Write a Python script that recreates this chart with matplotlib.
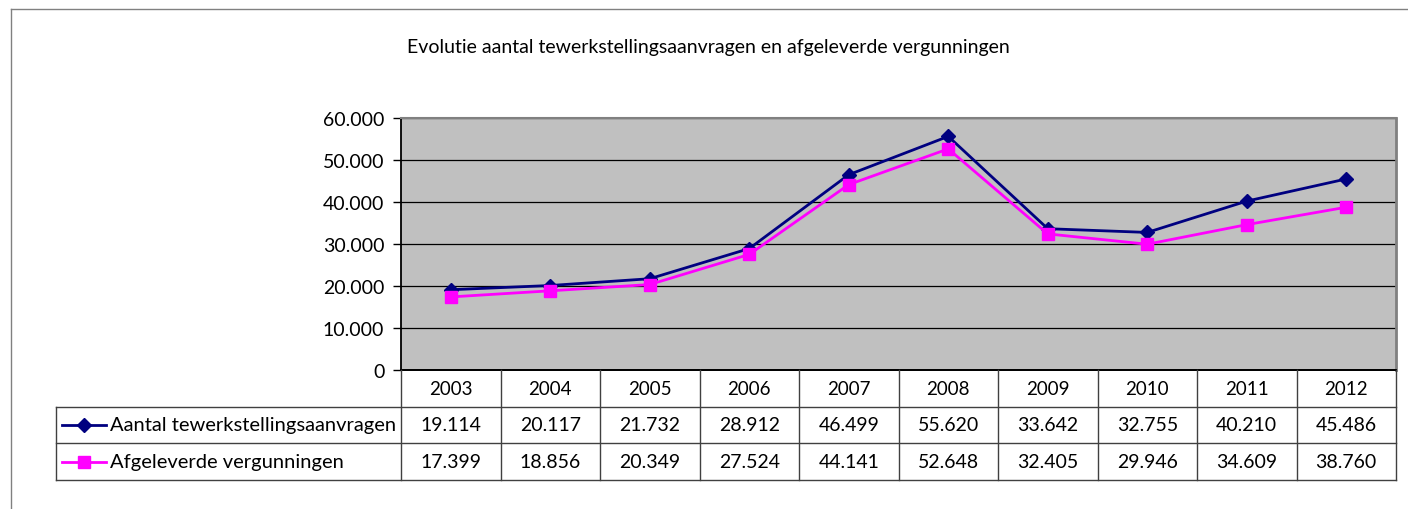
import matplotlib.pyplot as plt
from matplotlib.lines import Line2D

# ================= DATA =================

years = ["2003", "2004", "2005", "2006", "2007", "2008", "2009", "2010", "2011", "2012"]

aanvragen = [19114, 20117, 21732, 28912, 46499, 55620, 33642, 32755, 40210, 45486]

vergunningen = [17399, 18856, 20349, 27524, 44141, 52648, 32405, 29946, 34609, 38760]

series_names = ["Aantal tewerkstellingsaanvragen", "Afgeleverde vergunningen"]

y_ticks = [0, 10000, 20000, 30000, 40000, 50000, 60000]

title = "Evolutie aantal tewerkstellingsaanvragen en afgeleverde vergunningen"

plt.rcParams['font.family'] = ['Lato', 'DejaVu Sans']


def nl(v):
    return f"{v:,}".replace(",", ".")


W, H = 1408, 510
fig = plt.figure(figsize=(W / 100, H / 100), dpi=100)

# outer chart border (left + top only visible)
fig.add_artist(Line2D([11 / W, 11 / W], [0, 1 - 10 / H], color="#808080", lw=1))
fig.add_artist(Line2D([11 / W, 1], [1 - 10 / H, 1 - 10 / H], color="#808080", lw=1))

fig.text(708 / W, 1 - 47 / H, title, ha="center", va="center", fontsize=14)

# ================= LINE CHART =================

px_l, px_r, px_t, px_b = 401, 1396, 119, 371
ax = fig.add_axes([px_l / W, 1 - px_b / H, (px_r - px_l) / W, (px_b - px_t) / H])
ax.set_facecolor("#C0C0C0")

x = range(len(years))
ax.plot(x, aanvragen, color="#000080", lw=2, marker="D", markersize=7, zorder=3)
ax.plot(x, vergunningen, color="#FF00FF", lw=2, marker="s", markersize=9, zorder=4)

ax.set_xlim(-0.5, len(years) - 0.5)
ax.set_ylim(0, 60000)
ax.set_yticks(y_ticks)
ax.set_yticklabels([nl(v) for v in y_ticks], fontsize=14)
ax.set_xticks([])
ax.tick_params(axis="y", direction="out", length=6, width=1, pad=6)
ax.yaxis.grid(True, color="#000000", lw=0.9)
ax.set_axisbelow(True)

ax.spines["left"].set_color("black")
ax.spines["left"].set_linewidth(1.3)
ax.spines["bottom"].set_color("black")
ax.spines["bottom"].set_linewidth(1.3)
ax.spines["top"].set_color("#808080")
ax.spines["top"].set_linewidth(1.5)
ax.spines["right"].set_color("#808080")
ax.spines["right"].set_linewidth(2)

# ================= DATA TABLE =================

unit = (px_r - px_l) / len(years)
leg_l = 56
tab_b = 481
tx = fig.add_axes([leg_l / W, 1 - tab_b / H, (px_r - leg_l) / W, (tab_b - px_b) / H])
x0 = -0.5 - (px_l - leg_l) / unit
tx.set_xlim(x0, len(years) - 0.5)
tx.set_ylim(0, 3)
tx.axis("off")

grid_c = "#404040"
# horizontal lines
tx.plot([-0.5, len(years) - 0.5], [3, 3], color="black", lw=1.3, clip_on=False)
for yy in [0, 1, 2]:
    tx.plot([x0, len(years) - 0.5], [yy, yy], color=grid_c, lw=1, clip_on=False)
# vertical lines
for i in range(len(years) + 1):
    tx.plot([i - 0.5, i - 0.5], [0, 3], color=grid_c, lw=1, clip_on=False)
tx.plot([x0, x0], [0, 2], color=grid_c, lw=1, clip_on=False)

for i, yr in enumerate(years):
    tx.text(i, 2.5, yr, ha="center", va="center", fontsize=13.5)
    tx.text(i, 1.5, nl(aanvragen[i]), ha="center", va="center", fontsize=14)
    tx.text(i, 0.5, nl(vergunningen[i]), ha="center", va="center", fontsize=14)

# legend keys inside the table
styles = [("#000080", "D", 7), ("#FF00FF", "s", 9)]
for row, (name, (c, m, ms)) in zip([1.5, 0.5], zip(series_names, styles)):
    k0 = x0 + 6 / unit
    k1 = x0 + 50 / unit
    tx.plot([k0, k1], [row, row], color=c, lw=2)
    tx.plot([(k0 + k1) / 2], [row], color=c, marker=m, markersize=ms)
    tx.text(x0 + 54 / unit, row, name, ha="left", va="center", fontsize=14.5)

fig.savefig("out.png", dpi=100)
